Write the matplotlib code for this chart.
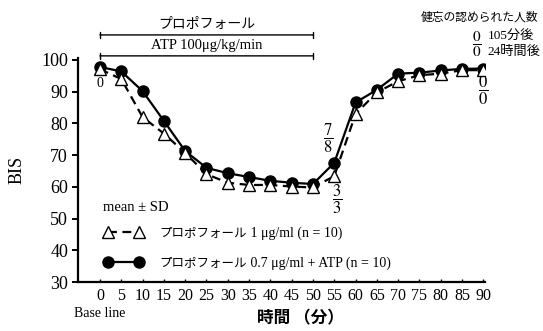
#!/usr/bin/env python
"""BIS time course: propofol alone vs. propofol + ATP."""

import matplotlib

matplotlib.use("Agg")

import matplotlib.pyplot as plt
import numpy as np

SERIF = ["Liberation Serif", "Noto Sans CJK JP"]
GOTHIC = ["Noto Sans CJK JP", "DejaVu Sans"]

TIME_MIN = [0, 5, 10, 15, 20, 25, 30, 35, 40, 45, 50, 55, 60, 65, 70, 75, 80, 85, 90]
BIS_PROPOFOL_ATP = [97.8, 96.4, 90.2, 80.8, 71.3, 66.0, 64.3, 63.1, 61.9, 61.3, 60.9,
                    67.6, 86.6, 90.6, 95.7, 96.0, 96.7, 97.2, 97.3]
BIS_PROPOFOL = [97.1, 94.0, 82.0, 76.8, 70.7, 64.0, 61.3, 60.6, 60.6, 60.1, 59.8,
                63.4, 83.0, 89.8, 93.3, 95.2, 95.7, 96.8, 96.8]

LABEL_PROPOFOL = ("プロポフォール", " 1 μg/ml (n = 10)")
LABEL_ATP = ("プロポフォール", " 0.7 μg/ml + ATP (n = 10)")

# amnesia counts: (time, BIS position, numerator, denominator)
AMNESIA_MARKS = [(53.5, 75.3, "7", "8"), (55.6, 55.9, "3", "3"), (90.0, 90.4, "0", "0")]
INFUSION_END = 50


def frac(top: str, bottom: str) -> str:
    return r"$\dfrac{%s}{%s}$" % (top, bottom)


def main() -> None:
    plt.rcParams["mathtext.fontset"] = "stix"
    fig = plt.figure(figsize=(5.43, 3.31), dpi=100)
    ax = fig.add_axes([0.1433, 0.148, 0.7493, 0.6765])

    ax.plot(TIME_MIN, BIS_PROPOFOL_ATP, color="black", lw=1.6, marker="o", ms=8,
            mfc="black", mec="black", label=LABEL_ATP[0], zorder=3)
    ax.plot(TIME_MIN, BIS_PROPOFOL, color="black", lw=1.6, ls=(0, (4, 2.5)), marker="^",
            ms=8.5, mfc="white", mec="black", mew=1.0, label=LABEL_PROPOFOL[0], zorder=4)

    ax.set_xlim(-5.2, 90.3)
    ax.set_ylim(30, 100.6)
    ax.set_xticks(np.arange(0, 91, 5))
    ax.set_yticks(np.arange(30, 101, 10))
    for side in ["top", "right"]:
        ax.spines[side].set_visible(False)
    for side in ["left", "bottom"]:
        ax.spines[side].set_linewidth(1.6)
    ax.tick_params(axis="y", direction="out", length=4, width=1.4, labelsize=13, pad=3)
    ax.tick_params(axis="x", direction="in", length=2.5, width=1.0, labelsize=11.5, pad=4)
    for label in ax.get_xticklabels() + ax.get_yticklabels():
        label.set_family(SERIF)

    ax.set_ylabel("BIS", family=SERIF, fontsize=13, labelpad=11)
    ax.set_xlabel("時間 （分）", family=GOTHIC, fontsize=12, fontweight="bold")
    ax.xaxis.set_label_coords(0.546, -0.12)
    ax.annotate("Base line", xy=(0, 0), xycoords=("data", "axes fraction"),
                xytext=(0, -23), textcoords="offset points", ha="center", va="center",
                family=SERIF, fontsize=10)

    # infusion bars
    for bis, text, fam, size in [(107.9, "プロポフォール", GOTHIC, 10),
                                 (101.3, "ATP 100μg/kg/min", SERIF, 10.5)]:
        ax.annotate("", xy=(0, bis), xytext=(INFUSION_END, bis), annotation_clip=False,
                    arrowprops=dict(arrowstyle="|-|, widthA=0.2, widthB=0.2", lw=1.0,
                                    shrinkA=0, shrinkB=0, color="black"))
        ax.text(INFUSION_END / 2, bis + 3.4, text, ha="center", va="center", family=fam,
                fontsize=size, clip_on=False)

    # amnesia counts
    ax.text(0, 92.7, "0", ha="center", va="center", family=SERIF, fontsize=10)
    for t, bis, top, bottom in AMNESIA_MARKS:
        ax.text(t, bis, frac(top, bottom), ha="center", va="center", fontsize=12,
                clip_on=False)
    ax.text(102.8, 113.6, "健忘の認められた人数", ha="right", va="center", family=GOTHIC,
            fontsize=8.5, clip_on=False)
    ax.text(88.5, 104.9, frac("0", "0"), ha="center", va="center", fontsize=11,
            clip_on=False)
    ax.text(91.0, 107.4, "105分後", ha="left", va="center", family=SERIF, fontsize=9.5,
            clip_on=False)
    ax.text(91.0, 102.5, "24時間後", ha="left", va="center", family=SERIF, fontsize=9.5,
            clip_on=False)

    ax.text(0.6, 53.6, "mean ± SD", ha="left", va="center", family=SERIF, fontsize=10.5)

    handles, labels = ax.get_legend_handles_labels()
    leg = ax.legend(handles[::-1], labels[::-1], loc="upper left", bbox_to_anchor=(1.06, 47.4),
                    bbox_transform=ax.transData, frameon=False, numpoints=2,
                    handlelength=3.1, handletextpad=1.3, borderpad=0, borderaxespad=0,
                    labelspacing=1.35, prop={"family": GOTHIC, "size": 9})
    for text, tail in zip(leg.get_texts(), [LABEL_PROPOFOL[1], LABEL_ATP[1]]):
        ax.annotate(tail, xy=(1, 0.5), xycoords=text, ha="left", va="center",
                    family=SERIF, fontsize=10, zorder=6)

    fig.canvas.draw()
    fig.savefig("out.png", dpi=100)
    plt.close(fig)


if __name__ == "__main__":
    main()
